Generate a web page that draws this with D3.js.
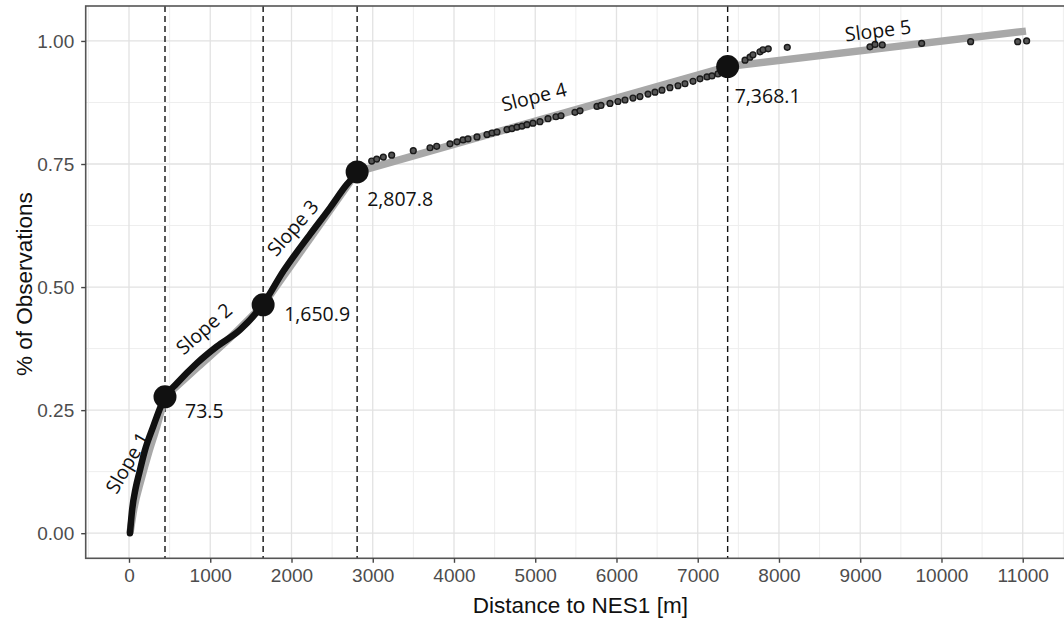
<!DOCTYPE html>
<html><head><meta charset="utf-8">
<script src="https://cdn.jsdelivr.net/npm/d3@7/dist/d3.min.js"></script>
<style>body{margin:0;background:#fff}</style>
</head><body><svg id="c" width="1064" height="619"></svg>
<script>
// ---- data ----
const xTicks = [0,1000,2000,3000,4000,5000,6000,7000,8000,9000,10000,11000];
const yTicks = [0, 0.25, 0.5, 0.75, 1.0];
const yTickLabels = ["0.00","0.25","0.50","0.75","1.00"];
// dense observations (0 - 2807.8 m)
const denseDist = [12,40,80,130,197,299,443,587,833,1079,1366,1653,1899,2228,2474,2679,2822];
const densePct  = [0,0.05,0.09,0.125,0.169,0.217,0.277,0.304,0.345,0.379,0.413,0.466,0.532,0.607,0.661,0.708,0.734];
// sparse observations beyond 2807.8 m
const obsDist = [2987,3049,3130,3233,3499,3705,3787,3951,4037,4111,4172,4283,4406,4468,4529,4652,4714,4775,4837,4898,4972,5058,5157,5255,5317,5489,5551,5760,5809,5920,6018,6105,6203,6289,6388,6474,6560,6658,6757,6843,6942,7028,7114,7175,7249,7298,
                 7582,7643,7680,7766,7803,7868,8102,9120,9182,9271,9756,10359,10938,11048];
const obsPct  = [0.756,0.760,0.764,0.768,0.777,0.783,0.786,0.791,0.795,0.799,0.801,0.805,0.810,0.813,0.815,0.820,0.822,0.825,0.827,0.830,0.833,0.836,0.842,0.846,0.848,0.855,0.858,0.867,0.869,0.873,0.877,0.880,0.884,0.887,0.892,0.896,0.900,0.905,0.909,0.913,0.918,0.923,0.927,0.929,0.933,0.936,
                 0.961,0.967,0.972,0.978,0.982,0.984,0.987,0.988,0.993,0.992,0.995,0.9986,0.9986,1.0];
// fitted piecewise model (grey)
const fitSlope1 = [[12,0],[60,0.05],[150,0.11],[240,0.163],[340,0.216],[443,0.277]];
const fitSlope2 = [[443,0.277],[850,0.338],[1250,0.398],[1650.9,0.464]];
const fitSlope3 = [[1650.9,0.464],[2807.8,0.734]];
const fitSlope4 = [[2807.8,0.734],[7368.1,0.948]];
const fitSlope5 = [[7368.1,0.948],[11040,1.02]];
// breakpoints
const breakDist  = [443, 1650.9, 2807.8, 7368.1];
const breakPct   = [0.277, 0.464, 0.734, 0.948];
const breakLabel = ["73.5", "1,650.9", "2,807.8", "7,368.1"];
// slope annotations
const slopeLabel = ["Slope 1","Slope 2","Slope 3","Slope 4","Slope 5"];
const slopeDist  = [-20, 923, 2018, 4985, 9218];
const slopePct   = [0.143, 0.415, 0.620, 0.8864, 1.0209];

// ---- layout ----
const L = 85.7, T = 6, B = 558.3, R = 1064;
const svg = d3.select("#c");
const x = d3.scaleLinear().domain([-533, 11508]).range([L, R]);
const y = d3.scaleLinear().domain([-0.051, 1.071]).range([B, T]);

const g = svg.append("g");
// grid minor
const xMinor = d3.range(-500, 11600, 1000);
const yMinor = [0.125, 0.375, 0.625, 0.875];
g.selectAll(".xm").data(xMinor).join("line").attr("x1",d=>x(d)).attr("x2",d=>x(d)).attr("y1",T).attr("y2",B)
  .attr("stroke","#eeeeee").attr("stroke-width",1);
g.selectAll(".ym").data(yMinor).join("line").attr("y1",d=>y(d)).attr("y2",d=>y(d)).attr("x1",L).attr("x2",R)
  .attr("stroke","#eeeeee").attr("stroke-width",1);
g.selectAll(".xM").data(xTicks).join("line").attr("x1",d=>x(d)).attr("x2",d=>x(d)).attr("y1",T).attr("y2",B)
  .attr("stroke","#e2e2e2").attr("stroke-width",1.3);
g.selectAll(".yM").data(yTicks).join("line").attr("y1",d=>y(d)).attr("y2",d=>y(d)).attr("x1",L).attr("x2",R)
  .attr("stroke","#e2e2e2").attr("stroke-width",1.3);

// dashed verticals
g.selectAll(".dash").data(breakDist).join("line")
  .attr("x1",d=>x(d)).attr("x2",d=>x(d)).attr("y1",T).attr("y2",B)
  .attr("stroke","#111").attr("stroke-width",1.4).attr("stroke-dasharray","6,4");

// fitted grey lines
const line = d3.line().x(d=>x(d[0])).y(d=>y(d[1])).curve(d3.curveMonotoneX);
[fitSlope1, fitSlope2, fitSlope3, fitSlope4, fitSlope5].forEach(seg=>{
  g.append("path").attr("d", line(seg)).attr("fill","none")
    .attr("stroke","#a8a8a8").attr("stroke-width",7.5);
});

// dense observations as thick black path
const dense = denseDist.map((d,i)=>[d, densePct[i]]);
g.append("path").attr("d", line(dense)).attr("fill","none")
  .attr("stroke","#111").attr("stroke-width",6.5).attr("stroke-linejoin","round").attr("stroke-linecap","round");

// sparse observations
g.selectAll(".obs").data(obsDist).join("circle")
  .attr("cx",d=>x(d)).attr("cy",(d,i)=>y(obsPct[i])).attr("r",2.9)
  .attr("fill","#555").attr("stroke","#1a1a1a").attr("stroke-width",1.4);

// breakpoints
g.selectAll(".bp").data(breakDist).join("circle")
  .attr("cx",d=>x(d)).attr("cy",(d,i)=>y(breakPct[i])).attr("r",11.5).attr("fill","#111");

const labOff = [[20,21],[21,16],[10,34],[7,36]];
g.selectAll(".bl").data(breakLabel).join("text")
  .attr("x",(d,i)=>x(breakDist[i])+labOff[i][0]).attr("y",(d,i)=>y(breakPct[i])+labOff[i][1])
  .attr("font-family","'Open Sans', 'Noto Sans', sans-serif").attr("font-size",19.5).attr("fill","#111")
  .text(d=>d);

const slopeAng = [-60,-41,-49,-14,-7];
g.selectAll(".sl").data(slopeLabel).join("text")
  .attr("transform",(d,i)=>`translate(${x(slopeDist[i])},${y(slopePct[i])}) rotate(${slopeAng[i]})`)
  .attr("text-anchor","middle").attr("dy","0.35em")
  .attr("font-family","'Open Sans', 'Noto Sans', sans-serif").attr("font-size",19.5).attr("fill","#111")
  .text(d=>d);

// panel border
svg.append("rect").attr("x",L).attr("y",T).attr("width",1100).attr("height",B-T)
  .attr("fill","none").attr("stroke","#555").attr("stroke-width",1.6);

// axes
const xAxis = svg.append("g").attr("transform",`translate(0,${B})`)
  .call(d3.axisBottom(x).tickValues(xTicks).tickFormat(d3.format("d")).tickSize(4.5).tickPadding(6));
const yAxis = svg.append("g").attr("transform",`translate(${L},0)`)
  .call(d3.axisLeft(y).tickValues(yTicks).tickFormat((d,i)=>yTickLabels[i]).tickSize(4.5).tickPadding(7));
[xAxis,yAxis].forEach(a=>{
  a.select(".domain").remove();
  a.selectAll(".tick line").attr("stroke","#444").attr("stroke-width",1.4);
  a.selectAll("text").attr("font-family","'Liberation Sans', Arial, sans-serif").attr("font-size",19).attr("fill","#4d4d4d");
});

// titles
svg.append("text").attr("x", (L + 1075)/2).attr("y", 613)
  .attr("text-anchor","middle").attr("font-family","'Liberation Sans', Arial, sans-serif")
  .attr("font-size",22.5).attr("fill","#111").text("Distance to NES1 [m]");
svg.append("text").attr("transform",`translate(31.5,${(191.7+376.7)/2}) rotate(-90)`)
  .attr("text-anchor","middle").attr("font-family","'Liberation Sans', Arial, sans-serif")
  .attr("font-size",22.5).attr("fill","#111").text("% of Observations");
</script></body></html>
